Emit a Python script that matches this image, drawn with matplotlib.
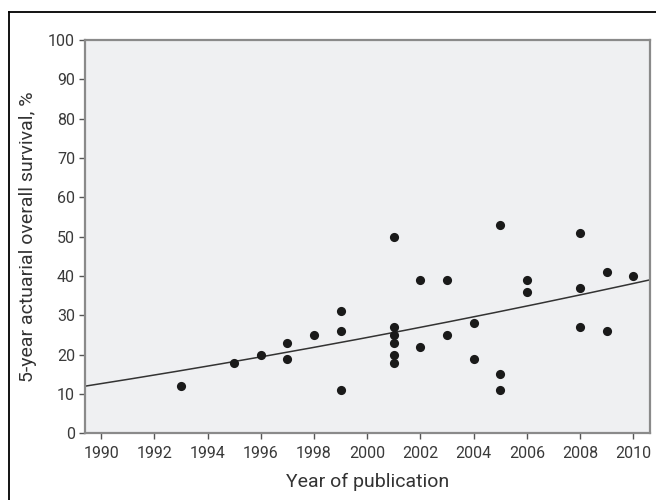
import numpy as np
import matplotlib.pyplot as plt
from matplotlib.lines import Line2D

plt.rcParams['font.family'] = ['Roboto', 'DejaVu Sans']

# studies: year of publication and 5-year survival (%)
years = [1993, 1995, 1996, 1997, 1997, 1998, 1999, 1999, 1999,
         2001, 2001, 2001, 2001, 2001, 2001, 2002, 2002, 2003, 2003,
         2004, 2004, 2005, 2005, 2005, 2006, 2006, 2008, 2008, 2008,
         2009, 2009, 2010]
survival = [12, 18, 20, 23, 19, 25, 31, 26, 11,
            50, 27, 25, 23, 20, 18, 39, 22, 39, 25,
            28, 19, 53, 15, 11, 39, 36, 51, 37, 27,
            41, 26, 40]

# fitted trend (quadratic in year - 2000)
fit_coef = [0.01, 1.273, 24.36]

x_ticks = list(range(1990, 2011, 2))
y_ticks = list(range(0, 101, 10))

fig = plt.figure(figsize=(6.56, 5.0), dpi=100)
ax = fig.add_axes([0.1303, 0.1334, 0.8606, 0.7866])
ax.set_facecolor('#eff0f2')

xx = np.linspace(1989.41, 2010.63, 200)
ax.plot(xx, np.polyval(fit_coef, xx - 2000), color='#333333', lw=1.1, zorder=2)
ax.plot(years, survival, 'o', color='#1a1a1a', ms=6.6, mec='none', zorder=3)

ax.set_xlim(1989.41, 2010.63)
ax.set_ylim(0, 100)
ax.set_xticks(x_ticks)
ax.set_yticks(y_ticks)

for s in ax.spines.values():
    s.set_color('#8a8a8a')
    s.set_linewidth(1.6)
ax.tick_params(colors='#555555', labelcolor='#3a3a3a', labelsize=11.5, length=4, width=1)
ax.tick_params(axis='x', pad=5)

ax.set_xlabel('Year of publication', fontsize=14, color='#333333', labelpad=9)
ax.set_ylabel('5-year actuarial overall survival, %', fontsize=14, color='#333333', labelpad=8)

# outer frame (top and left edges visible)
fig.add_artist(Line2D([9 / 656, 1], [1 - 12 / 500, 1 - 12 / 500], color='black', lw=1.3,
                      transform=fig.transFigure))
fig.add_artist(Line2D([9 / 656, 9 / 656], [0, 1 - 12 / 500], color='black', lw=1.3,
                      transform=fig.transFigure))

fig.savefig('out.png', dpi=100)
